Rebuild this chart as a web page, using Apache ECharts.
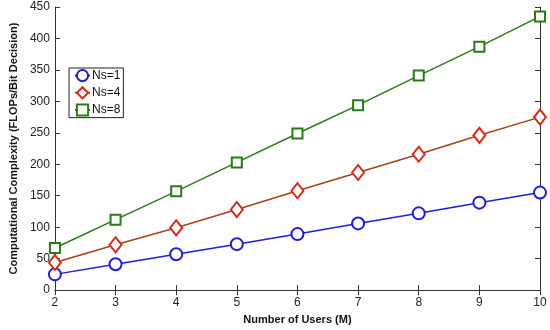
<!DOCTYPE html>
<html><head><meta charset="utf-8">
<script src="https://cdn.jsdelivr.net/npm/echarts@6/dist/echarts.min.js"></script>
<style>html,body{margin:0;padding:0;background:#fff}#c{width:550px;height:330px}</style>
</head><body><div id="c"></div>
<script>
var users = [2, 3, 4, 5, 6, 7, 8, 9, 10];
var ns1 = [25, 41, 57, 73, 89, 106, 122, 139, 155];
var ns4 = [44, 72, 99, 128, 158, 187, 216, 246, 275];
var ns8 = [67, 112, 157, 203, 249, 294, 341, 387, 435];
var seriesNames = ['Ns=1', 'Ns=4', 'Ns=8'];

function pairs(v){ return users.map(function(x,i){ return [x, v[i]]; }); }
var font = 'Liberation Sans, Arial, sans-serif';
var axisCol = '#333';
var chart = echarts.init(document.getElementById('c'));
var mirrorX = {type:'value', min:2, max:10, interval:1, position:'top',
  axisLine:{show:true, lineStyle:{color:axisCol}}, axisTick:{show:true, inside:true, length:5, lineStyle:{color:axisCol}},
  axisLabel:{show:false}, splitLine:{show:false}};
var mirrorY = {type:'value', min:0, max:450, interval:50, position:'right',
  axisLine:{show:true, lineStyle:{color:axisCol}}, axisTick:{show:true, inside:true, length:5, lineStyle:{color:axisCol}},
  axisLabel:{show:false}, splitLine:{show:false}};
chart.setOption({
  animation:false,
  backgroundColor:'#fff',
  grid:{left:41, right:10, top:7, bottom:37, containLabel:false},
  legend:{
    orient:'vertical', left:69, top:68, padding:[1,3,1,5], itemGap:4,
    itemWidth:15, itemHeight:14,
    backgroundColor:'#fff', borderColor:'#222', borderWidth:1, borderRadius:0,
    textStyle:{fontFamily:font, fontSize:12, color:'#111', padding:[0,0,0,-3]},
    data: seriesNames
  },
  xAxis:[{type:'value', min:2, max:10, interval:1, position:'bottom',
    name:'Number of Users (M)', nameLocation:'middle', nameGap:22,
    nameTextStyle:{fontFamily:font, fontSize:11, fontWeight:'bold', color:'#111'},
    axisLine:{show:true, onZero:false, lineStyle:{color:axisCol}}, axisTick:{show:true, inside:true, length:5, lineStyle:{color:axisCol}},
    axisLabel:{fontFamily:font, fontSize:12, color:'#222', margin:7}, splitLine:{show:false}},
    mirrorX],
  yAxis:[{type:'value', min:0, max:450, interval:50, position:'left',
    name:'Computational Complexity (FLOPs/Bit Decision)', nameLocation:'middle', nameGap:28,
    nameTextStyle:{fontFamily:font, fontSize:11, fontWeight:'bold', color:'#111'},
    axisLine:{show:true, onZero:false, lineStyle:{color:axisCol}}, axisTick:{show:true, inside:true, length:5, lineStyle:{color:axisCol}},
    axisLabel:{fontFamily:font, fontSize:12, color:'#222', margin:5}, splitLine:{show:false}},
    mirrorY],
  series:[
    {name:seriesNames[0], type:'line', data:pairs(ns1), symbol:'emptyCircle', symbolSize:12,
     lineStyle:{color:'#1f1fd6', width:1.5}, itemStyle:{color:'#1f1fd6', borderWidth:1.5}},
    {name:seriesNames[1], type:'line', data:pairs(ns4), symbol:'emptyDiamond', symbolSize:[12,15],
     lineStyle:{color:'#a8401c', width:1.5}, itemStyle:{color:'#d62a1e', borderWidth:1.5}},
    {name:seriesNames[2], type:'line', data:pairs(ns8), symbol:'emptyRect', symbolSize:10,
     lineStyle:{color:'#2a7a18', width:1.5}, itemStyle:{color:'#2a7a18', borderWidth:1.5}}
  ]
});
</script></body></html>
